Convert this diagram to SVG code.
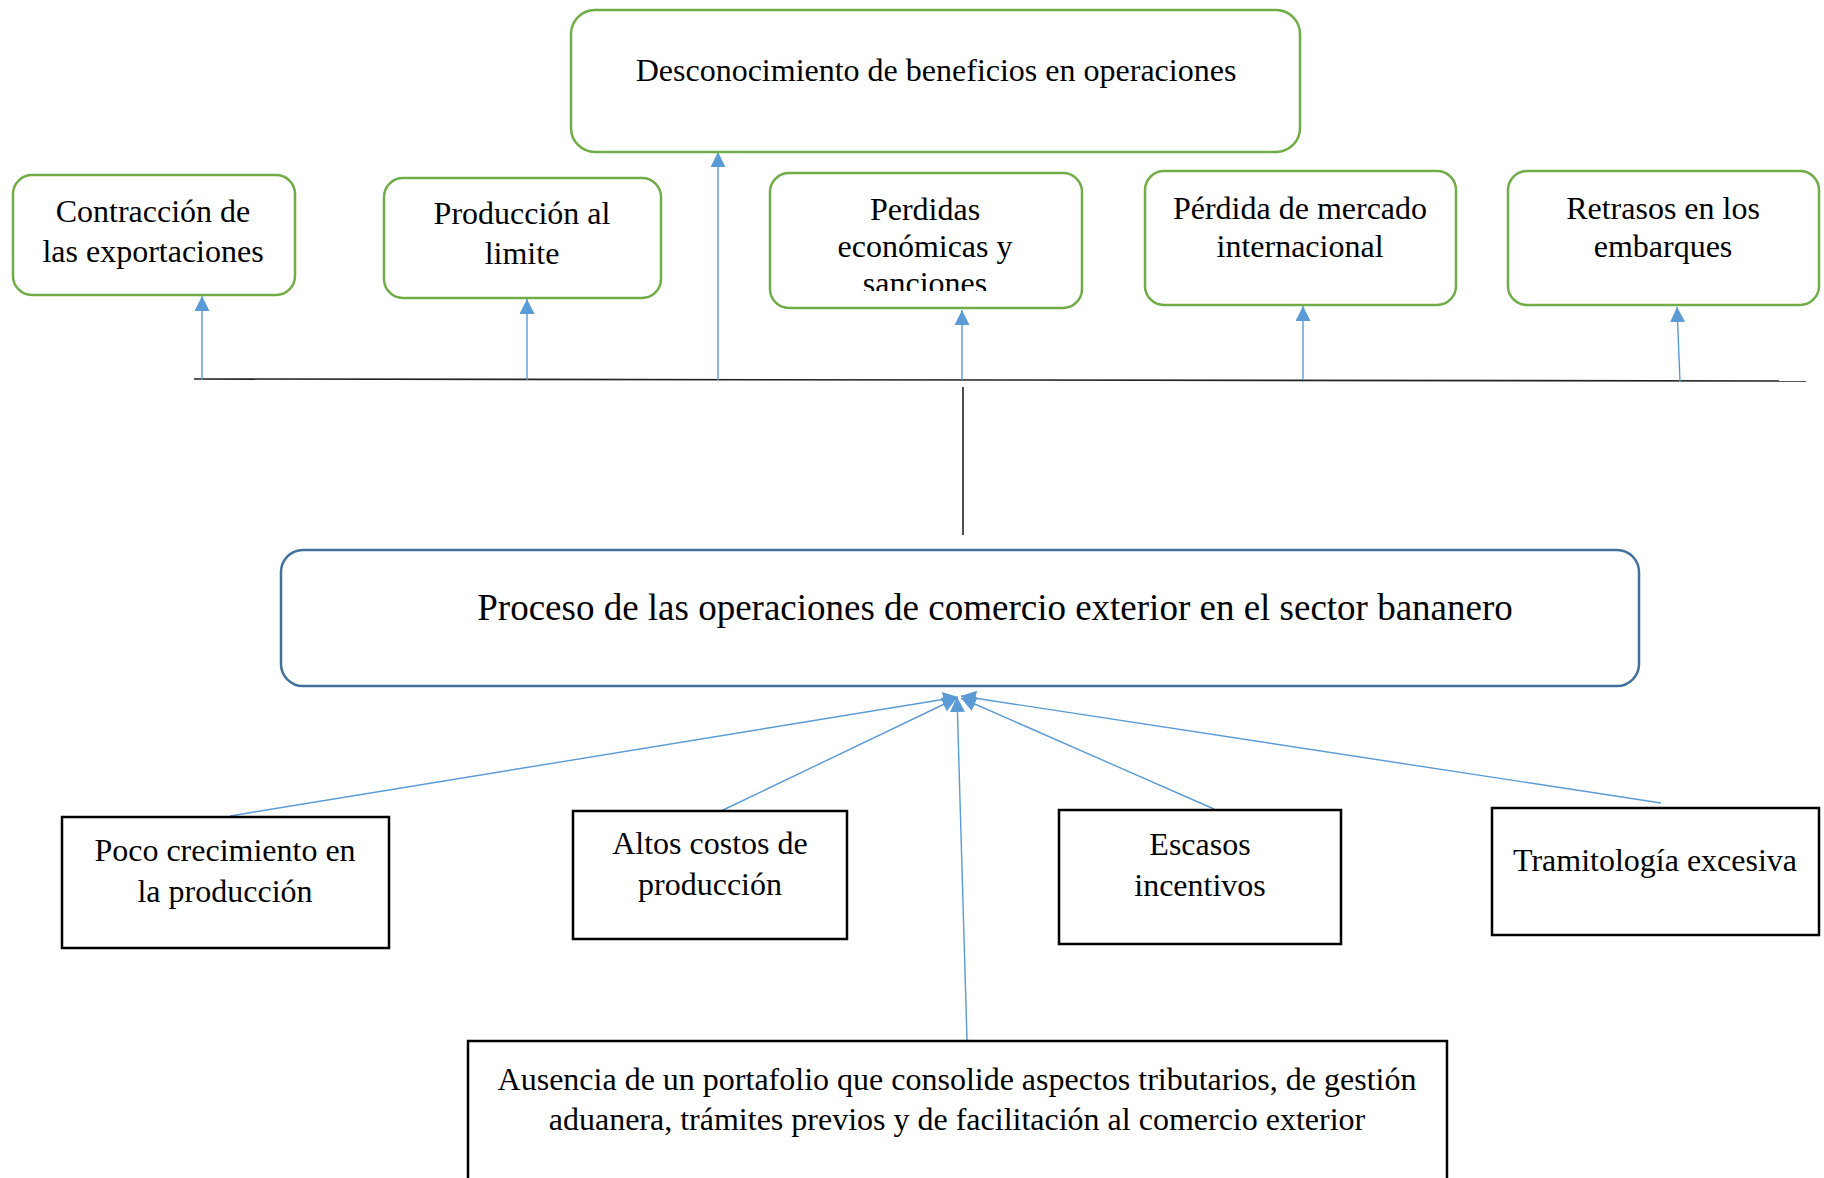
<svg xmlns="http://www.w3.org/2000/svg" width="1824" height="1178" viewBox="0 0 1824 1178">
<style>
.g{fill:#fff;stroke:#70AD47;stroke-width:2.5}
.b{fill:#fff;stroke:#41719C;stroke-width:2.5}
.k{fill:#fff;stroke:#000;stroke-width:2.5}
text{font-family:"Liberation Serif","Times New Roman",serif;font-size:32px;fill:#000;text-anchor:middle}
.big{font-size:37px}
.c{stroke:#5B9BD5;stroke-width:1.4;fill:none;marker-end:url(#ah)}
.ln{stroke:#222;stroke-width:1.6;fill:none}
</style>
<defs>
<marker id="ah" viewBox="0 0 10 10" refX="10" refY="5" markerWidth="15" markerHeight="15" markerUnits="userSpaceOnUse" orient="auto">
<path d="M0,0 L10,5 L0,10 z" fill="#5B9BD5"/>
</marker>
<clipPath id="clipP"><rect x="770" y="172" width="312" height="119"/></clipPath>
</defs>
<rect width="1824" height="1178" fill="#fff"/>

<g id="connectors">
<line class="ln" x1="194" y1="379" x2="1806" y2="381"/>
<line class="ln" x1="963" y1="387" x2="963" y2="535"/>
<line class="c" x1="202" y1="380" x2="202" y2="296"/>
<line class="c" x1="527" y1="380" x2="527" y2="299"/>
<line class="c" x1="718" y1="380" x2="718" y2="152"/>
<line class="c" x1="962" y1="380" x2="962" y2="310"/>
<line class="c" x1="1303" y1="380" x2="1303" y2="306"/>
<line class="c" x1="1680" y1="382" x2="1677" y2="307"/>
<line class="c" x1="230" y1="816" x2="958" y2="697"/>
<line class="c" x1="721" y1="811" x2="957" y2="698"/>
<line class="c" x1="967" y1="1040" x2="957" y2="697"/>
<line class="c" x1="1214" y1="809" x2="961" y2="698"/>
<line class="c" x1="1661" y1="803" x2="961" y2="696"/>
</g>

<g id="n-desconocimiento">
<rect class="g" x="571" y="10" width="729" height="142" rx="24"/>
<text x="936" y="81">Desconocimiento de beneficios en operaciones</text>
</g>
<g id="n-contraccion">
<rect class="g" x="13" y="175" width="282" height="120" rx="19"/>
<text x="153" y="222">Contracción de</text>
<text x="153" y="262">las exportaciones</text>
</g>
<g id="n-produccion">
<rect class="g" x="384" y="178" width="277" height="120" rx="19"/>
<text x="522" y="224">Producción al</text>
<text x="522" y="264">limite</text>
</g>
<g id="n-perdidas">
<rect class="g" x="770" y="173" width="312" height="135" rx="19"/>
<g clip-path="url(#clipP)">
<text x="925" y="220">Perdidas</text>
<text x="925" y="257">económicas y</text>
<text x="925" y="294">sanciones</text>
</g>
</g>
<g id="n-mercado">
<rect class="g" x="1145" y="171" width="311" height="134" rx="19"/>
<text x="1300" y="219">Pérdida de mercado</text>
<text x="1300" y="257">internacional</text>
</g>
<g id="n-retrasos">
<rect class="g" x="1508" y="171" width="311" height="134" rx="19"/>
<text x="1663" y="219">Retrasos en los</text>
<text x="1663" y="257">embarques</text>
</g>

<g id="n-proceso">
<rect class="b" x="281" y="550" width="1358" height="136" rx="22"/>
<text class="big" x="995" y="620">Proceso de las operaciones de comercio exterior en el sector bananero</text>
</g>

<g id="n-poco">
<rect class="k" x="62" y="817" width="327" height="131"/>
<text x="225" y="861">Poco crecimiento en</text>
<text x="225" y="902">la producción</text>
</g>
<g id="n-altos">
<rect class="k" x="573" y="811" width="274" height="128"/>
<text x="710" y="854">Altos costos de</text>
<text x="710" y="895">producción</text>
</g>
<g id="n-escasos">
<rect class="k" x="1059" y="810" width="282" height="134"/>
<text x="1200" y="855">Escasos</text>
<text x="1200" y="896">incentivos</text>
</g>
<g id="n-tramitologia">
<rect class="k" x="1492" y="808" width="327" height="127"/>
<text x="1655" y="871">Tramitología excesiva</text>
</g>
<g id="n-ausencia">
<rect class="k" x="468" y="1041" width="979" height="160"/>
<text x="957" y="1090">Ausencia de un portafolio que consolide aspectos tributarios, de gestión</text>
<text x="957" y="1130">aduanera, trámites previos y de facilitación al comercio exterior</text>
</g>
</svg>
